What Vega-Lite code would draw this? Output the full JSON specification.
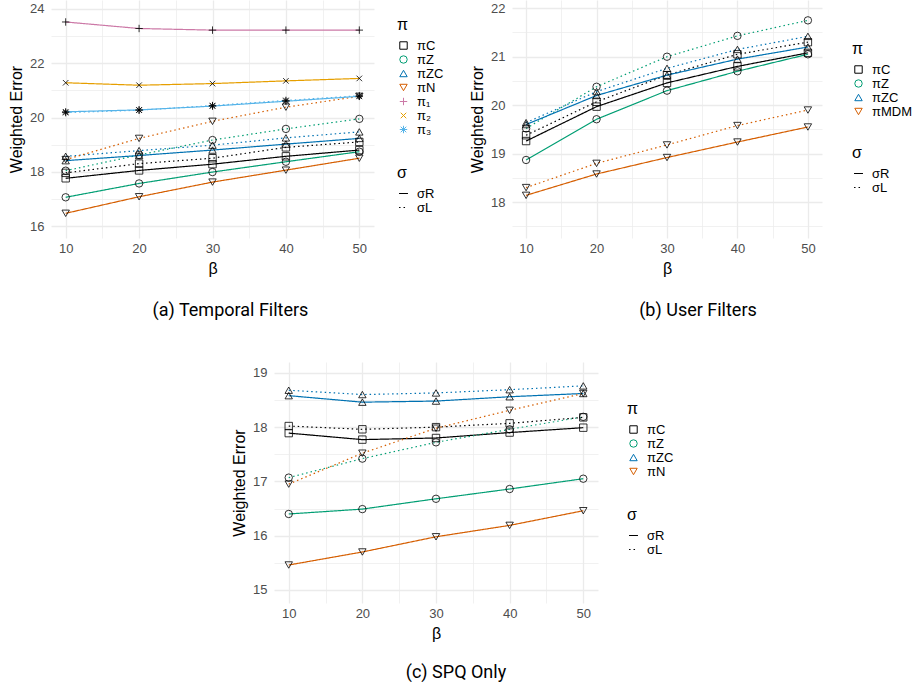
{
"$schema": "https://vega.github.io/schema/vega-lite/v6.json",
"padding": {"left": 8, "top": 0, "right": 0, "bottom": 0},
"config": {
  "view": {"stroke": null},
  "axis": {"domain": false, "ticks": false, "labelFont": "Liberation Sans", "labelFontSize": 13, "labelColor": "#4D4D4D", "titleFont": "Liberation Sans", "titleFontSize": 16, "titleFontWeight": "normal", "titleColor": "#000000", "gridColor": "#EBEBEB", "labelPadding": 4, "titlePadding": 5},
  "axisY": {"labelPadding": 7},
  "legend": {"titleFont": "Liberation Sans", "titleFontSize": 16, "titleFontWeight": "normal", "titleColor": "#000000", "labelFont": "Liberation Sans", "labelFontSize": 13, "labelColor": "#000000", "symbolSize": 55, "symbolStrokeWidth": 1, "rowPadding": 0, "titlePadding": 6, "labelOffset": 7},
  "title": {"font": "Roboto", "fontSize": 18, "fontWeight": "normal", "color": "#000000"}
},
"datasets": {
"a": [
{"p":"πC","s":"σR","b":10,"e":17.76},{"p":"πC","s":"σR","b":20,"e":18.05},{"p":"πC","s":"σR","b":30,"e":18.28},{"p":"πC","s":"σR","b":40,"e":18.57},{"p":"πC","s":"σR","b":50,"e":18.80},
{"p":"πC","s":"σL","b":10,"e":17.96},{"p":"πC","s":"σL","b":20,"e":18.30},{"p":"πC","s":"σL","b":30,"e":18.50},{"p":"πC","s":"σL","b":40,"e":18.90},{"p":"πC","s":"σL","b":50,"e":19.10},
{"p":"πZ","s":"σR","b":10,"e":17.06},{"p":"πZ","s":"σR","b":20,"e":17.57},{"p":"πZ","s":"σR","b":30,"e":17.99},{"p":"πZ","s":"σR","b":40,"e":18.37},{"p":"πZ","s":"σR","b":50,"e":18.74},
{"p":"πZ","s":"σL","b":10,"e":18.04},{"p":"πZ","s":"σL","b":20,"e":18.62},{"p":"πZ","s":"σL","b":30,"e":19.17},{"p":"πZ","s":"σL","b":40,"e":19.58},{"p":"πZ","s":"σL","b":50,"e":19.95},
{"p":"πZC","s":"σR","b":10,"e":18.41},{"p":"πZC","s":"σR","b":20,"e":18.60},{"p":"πZC","s":"σR","b":30,"e":18.80},{"p":"πZC","s":"σR","b":40,"e":19.02},{"p":"πZC","s":"σR","b":50,"e":19.23},
{"p":"πZC","s":"σL","b":10,"e":18.57},{"p":"πZC","s":"σL","b":20,"e":18.78},{"p":"πZC","s":"σL","b":30,"e":18.98},{"p":"πZC","s":"σL","b":40,"e":19.25},{"p":"πZC","s":"σL","b":50,"e":19.47},
{"p":"πN","s":"σR","b":10,"e":16.47},{"p":"πN","s":"σR","b":20,"e":17.08},{"p":"πN","s":"σR","b":30,"e":17.62},{"p":"πN","s":"σR","b":40,"e":18.06},{"p":"πN","s":"σR","b":50,"e":18.50},
{"p":"πN","s":"σL","b":10,"e":18.45},{"p":"πN","s":"σL","b":20,"e":19.23},{"p":"πN","s":"σL","b":30,"e":19.86},{"p":"πN","s":"σL","b":40,"e":20.38},{"p":"πN","s":"σL","b":50,"e":20.78},
{"p":"π₁","s":"σR","b":10,"e":23.52},{"p":"π₁","s":"σR","b":20,"e":23.28},{"p":"π₁","s":"σR","b":30,"e":23.22},{"p":"π₁","s":"σR","b":40,"e":23.22},{"p":"π₁","s":"σR","b":50,"e":23.22},
{"p":"π₂","s":"σR","b":10,"e":21.28},{"p":"π₂","s":"σR","b":20,"e":21.19},{"p":"π₂","s":"σR","b":30,"e":21.25},{"p":"π₂","s":"σR","b":40,"e":21.35},{"p":"π₂","s":"σR","b":50,"e":21.44},
{"p":"π₃","s":"σR","b":10,"e":20.21},{"p":"π₃","s":"σR","b":20,"e":20.28},{"p":"π₃","s":"σR","b":30,"e":20.42},{"p":"π₃","s":"σR","b":40,"e":20.60},{"p":"π₃","s":"σR","b":50,"e":20.78},
{"p":"π₃","s":"σL","b":10,"e":20.18},{"p":"π₃","s":"σL","b":20,"e":20.27},{"p":"π₃","s":"σL","b":30,"e":20.44},{"p":"π₃","s":"σL","b":40,"e":20.63},{"p":"π₃","s":"σL","b":50,"e":20.80}
],
"b": [
{"p":"πC","s":"σR","b":10,"e":19.26},{"p":"πC","s":"σR","b":20,"e":19.97},{"p":"πC","s":"σR","b":30,"e":20.46},{"p":"πC","s":"σR","b":40,"e":20.80},{"p":"πC","s":"σR","b":50,"e":21.08},
{"p":"πC","s":"σL","b":10,"e":19.38},{"p":"πC","s":"σL","b":20,"e":20.07},{"p":"πC","s":"σL","b":30,"e":20.62},{"p":"πC","s":"σL","b":40,"e":21.05},{"p":"πC","s":"σL","b":50,"e":21.30},
{"p":"πZ","s":"σR","b":10,"e":18.87},{"p":"πZ","s":"σR","b":20,"e":19.71},{"p":"πZ","s":"σR","b":30,"e":20.30},{"p":"πZ","s":"σR","b":40,"e":20.70},{"p":"πZ","s":"σR","b":50,"e":21.05},
{"p":"πZ","s":"σL","b":10,"e":19.52},{"p":"πZ","s":"σL","b":20,"e":20.38},{"p":"πZ","s":"σL","b":30,"e":21.00},{"p":"πZ","s":"σL","b":40,"e":21.43},{"p":"πZ","s":"σL","b":50,"e":21.75},
{"p":"πZC","s":"σR","b":10,"e":19.60},{"p":"πZC","s":"σR","b":20,"e":20.20},{"p":"πZC","s":"σR","b":30,"e":20.62},{"p":"πZC","s":"σR","b":40,"e":20.95},{"p":"πZC","s":"σR","b":50,"e":21.20},
{"p":"πZC","s":"σL","b":10,"e":19.64},{"p":"πZC","s":"σL","b":20,"e":20.28},{"p":"πZC","s":"σL","b":30,"e":20.76},{"p":"πZC","s":"σL","b":40,"e":21.15},{"p":"πZC","s":"σL","b":50,"e":21.42},
{"p":"πMDM","s":"σR","b":10,"e":18.14},{"p":"πMDM","s":"σR","b":20,"e":18.58},{"p":"πMDM","s":"σR","b":30,"e":18.92},{"p":"πMDM","s":"σR","b":40,"e":19.24},{"p":"πMDM","s":"σR","b":50,"e":19.55},
{"p":"πMDM","s":"σL","b":10,"e":18.30},{"p":"πMDM","s":"σL","b":20,"e":18.80},{"p":"πMDM","s":"σL","b":30,"e":19.18},{"p":"πMDM","s":"σL","b":40,"e":19.58},{"p":"πMDM","s":"σL","b":50,"e":19.90}
],
"c": [
{"p":"πC","s":"σR","b":10,"e":17.89},{"p":"πC","s":"σR","b":20,"e":17.77},{"p":"πC","s":"σR","b":30,"e":17.80},{"p":"πC","s":"σR","b":40,"e":17.90},{"p":"πC","s":"σR","b":50,"e":17.99},
{"p":"πC","s":"σL","b":10,"e":18.02},{"p":"πC","s":"σL","b":20,"e":17.96},{"p":"πC","s":"σL","b":30,"e":18.00},{"p":"πC","s":"σL","b":40,"e":18.07},{"p":"πC","s":"σL","b":50,"e":18.18},
{"p":"πZ","s":"σR","b":10,"e":16.40},{"p":"πZ","s":"σR","b":20,"e":16.49},{"p":"πZ","s":"σR","b":30,"e":16.68},{"p":"πZ","s":"σR","b":40,"e":16.86},{"p":"πZ","s":"σR","b":50,"e":17.05},
{"p":"πZ","s":"σL","b":10,"e":17.07},{"p":"πZ","s":"σL","b":20,"e":17.42},{"p":"πZ","s":"σL","b":30,"e":17.72},{"p":"πZ","s":"σL","b":40,"e":17.96},{"p":"πZ","s":"σL","b":50,"e":18.19},
{"p":"πZC","s":"σR","b":10,"e":18.58},{"p":"πZC","s":"σR","b":20,"e":18.46},{"p":"πZC","s":"σR","b":30,"e":18.48},{"p":"πZC","s":"σR","b":40,"e":18.56},{"p":"πZC","s":"σR","b":50,"e":18.62},
{"p":"πZC","s":"σL","b":10,"e":18.68},{"p":"πZC","s":"σL","b":20,"e":18.60},{"p":"πZC","s":"σL","b":30,"e":18.63},{"p":"πZC","s":"σL","b":40,"e":18.69},{"p":"πZC","s":"σL","b":50,"e":18.76},
{"p":"πN","s":"σR","b":10,"e":15.46},{"p":"πN","s":"σR","b":20,"e":15.70},{"p":"πN","s":"σR","b":30,"e":15.98},{"p":"πN","s":"σR","b":40,"e":16.19},{"p":"πN","s":"σR","b":50,"e":16.46},
{"p":"πN","s":"σL","b":10,"e":16.95},{"p":"πN","s":"σL","b":20,"e":17.52},{"p":"πN","s":"σL","b":30,"e":17.98},{"p":"πN","s":"σL","b":40,"e":18.31},{"p":"πN","s":"σL","b":50,"e":18.62}
]
},
"vconcat": [
{
"hconcat": [
{
 "width": 323, "height": 238,
 "data": {"name": "a"},
 "title": {"text": "(a) Temporal Filters", "orient": "bottom", "frame": "group", "dx": 18, "offset": 26},
 "encoding": {
  "x": {"field": "b", "type": "quantitative", "scale": {"domain": [8, 52], "nice": false, "zero": false}, "axis": {"title": "β", "values": [10,15,20,25,30,35,40,45,50], "labelExpr": "datum.value % 10 === 0 ? datum.label : ''", "gridWidth": {"condition": {"test": "datum.value % 10 !== 0", "value": 0.7}, "value": 1.3}}},
  "y": {"field": "e", "type": "quantitative", "scale": {"domain": [15.56, 24.33], "nice": false, "zero": false}, "axis": {"title": "Weighted Error", "values": [16,17,18,19,20,21,22,23,24], "labelExpr": "datum.value % 2 === 0 ? format(datum.value, 'd') : ''", "gridWidth": {"condition": {"test": "datum.value % 2 !== 0", "value": 0.7}, "value": 1.3}}}
 },
 "layer": [
  {"mark": {"type": "line", "strokeWidth": 1.2}, "encoding": {
    "color": {"field": "p", "type": "nominal", "scale": {"domain": ["πC","πZ","πZC","πN","π₁","π₂","π₃"], "range": ["#000000","#009E73","#0072B2","#D55E00","#CC79A7","#E69F00","#56B4E9"]}, "legend": {"title": "π", "orient": "none", "legendX": 346, "legendY": 17}},
    "strokeDash": {"field": "s", "type": "nominal", "scale": {"domain": ["σR","σL"], "range": [[1,0],[1.5,3]]}, "legend": {"title": "σ", "orient": "none", "legendX": 346, "legendY": 165, "symbolType": "stroke", "symbolStrokeColor": "#000000", "symbolSize": 80, "symbolStrokeWidth": 1.2, "rowPadding": 0}}}},
  {"mark": {"type": "point", "filled": false, "color": "#000000", "size": 55, "strokeWidth": 0.8, "opacity": 1}, "encoding": {
    "shape": {"field": "p", "type": "nominal", "scale": {"domain": ["πC","πZ","πZC","πN","π₁","π₂","π₃"], "range": ["square","circle","triangle-up","triangle-down","M-1,0H1M0,-1V1","M-0.75,-0.75L0.75,0.75M-0.75,0.75L0.75,-0.75","M-1,0H1M0,-1V1M-0.75,-0.75L0.75,0.75M-0.75,0.75L0.75,-0.75"]}, "legend": {"title": "π", "orient": "none", "legendX": 346, "legendY": 17}}}}
 ]
},
{
 "width": 310, "height": 238,
 "data": {"name": "b"},
 "title": {"text": "(b) User Filters", "orient": "bottom", "frame": "group", "dx": 31, "offset": 26},
 "encoding": {
  "x": {"field": "b", "type": "quantitative", "scale": {"domain": [8, 52], "nice": false, "zero": false}, "axis": {"title": "β", "values": [10,15,20,25,30,35,40,45,50], "labelExpr": "datum.value % 10 === 0 ? datum.label : ''", "gridWidth": {"condition": {"test": "datum.value % 10 !== 0", "value": 0.7}, "value": 1.3}}},
  "y": {"field": "e", "type": "quantitative", "scale": {"domain": [17.26, 22.17], "nice": false, "zero": false}, "axis": {"title": "Weighted Error", "values": [17.5,18,18.5,19,19.5,20,20.5,21,21.5,22], "labelExpr": "datum.value % 1 === 0 ? format(datum.value, 'd') : ''", "gridWidth": {"condition": {"test": "datum.value % 1 !== 0", "value": 0.7}, "value": 1.3}}}
 },
 "layer": [
  {"mark": {"type": "line", "strokeWidth": 1.2}, "encoding": {
    "color": {"field": "p", "type": "nominal", "scale": {"domain": ["πC","πZ","πZC","πMDM"], "range": ["#000000","#009E73","#0072B2","#D55E00"]}, "legend": {"title": "π", "orient": "none", "legendX": 340, "legendY": 41}},
    "strokeDash": {"field": "s", "type": "nominal", "scale": {"domain": ["σR","σL"], "range": [[1,0],[1.5,3]]}, "legend": {"title": "σ", "orient": "none", "legendX": 340, "legendY": 145, "symbolType": "stroke", "symbolStrokeColor": "#000000", "symbolSize": 80, "symbolStrokeWidth": 1.2, "rowPadding": 0}}}},
  {"mark": {"type": "point", "filled": false, "color": "#000000", "size": 55, "strokeWidth": 0.8, "opacity": 1}, "encoding": {
    "shape": {"field": "p", "type": "nominal", "scale": {"domain": ["πC","πZ","πZC","πMDM"], "range": ["square","circle","triangle-up","triangle-down"]}, "legend": {"title": "π", "orient": "none", "legendX": 340, "legendY": 41}}}}
 ]
}
],
"spacing": 25,
"resolve": {"scale": {"x": "independent", "y": "independent", "color": "independent", "shape": "independent", "strokeDash": "independent"}}
},
{
"hconcat": [
{
 "width": 160, "height": 10,
 "data": {"values": []},
 "mark": "point"
},
{
 "width": 324, "height": 241,
 "data": {"name": "c"},
 "title": {"text": "(c) SPQ Only", "orient": "bottom", "frame": "group", "dx": 20, "offset": 23},
 "encoding": {
  "x": {"field": "b", "type": "quantitative", "scale": {"domain": [8, 52], "nice": false, "zero": false}, "axis": {"title": "β", "values": [10,15,20,25,30,35,40,45,50], "labelExpr": "datum.value % 10 === 0 ? datum.label : ''", "gridWidth": {"condition": {"test": "datum.value % 10 !== 0", "value": 0.7}, "value": 1.3}}},
  "y": {"field": "e", "type": "quantitative", "scale": {"domain": [14.76, 19.2], "nice": false, "zero": false}, "axis": {"title": "Weighted Error", "values": [15,15.5,16,16.5,17,17.5,18,18.5,19], "labelExpr": "datum.value % 1 === 0 ? format(datum.value, 'd') : ''", "gridWidth": {"condition": {"test": "datum.value % 1 !== 0", "value": 0.7}, "value": 1.3}}}
 },
 "layer": [
  {"mark": {"type": "line", "strokeWidth": 1.2}, "encoding": {
    "color": {"field": "p", "type": "nominal", "scale": {"domain": ["πC","πZ","πZC","πN"], "range": ["#000000","#009E73","#0072B2","#D55E00"]}, "legend": {"title": "π", "orient": "none", "legendX": 353, "legendY": 39}},
    "strokeDash": {"field": "s", "type": "nominal", "scale": {"domain": ["σR","σL"], "range": [[1,0],[1.5,3]]}, "legend": {"title": "σ", "orient": "none", "legendX": 353, "legendY": 145, "symbolType": "stroke", "symbolStrokeColor": "#000000", "symbolSize": 80, "symbolStrokeWidth": 1.2, "rowPadding": 0}}}},
  {"mark": {"type": "point", "filled": false, "color": "#000000", "size": 55, "strokeWidth": 0.8, "opacity": 1}, "encoding": {
    "shape": {"field": "p", "type": "nominal", "scale": {"domain": ["πC","πZ","πZC","πN"], "range": ["square","circle","triangle-up","triangle-down"]}, "legend": {"title": "π", "orient": "none", "legendX": 353, "legendY": 39}}}}
 ]
}
],
"spacing": 20,
"resolve": {"scale": {"x": "independent", "y": "independent", "color": "independent", "shape": "independent", "strokeDash": "independent"}}
}
],
"spacing": 42,
"resolve": {"scale": {"x": "independent", "y": "independent", "color": "independent", "shape": "independent", "strokeDash": "independent"}}
}
